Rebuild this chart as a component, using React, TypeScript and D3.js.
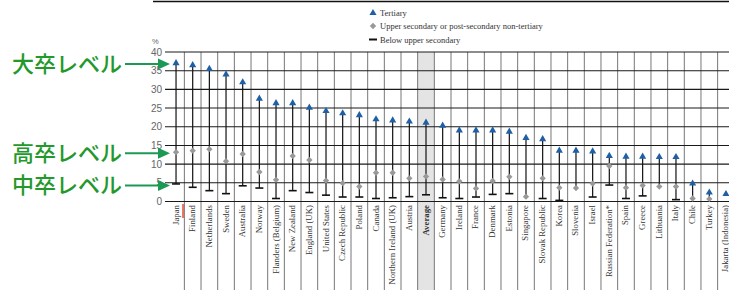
import * as React from "react";
import * as d3 from "d3";

const countries = [
  "Japan", "Finland", "Netherlands", "Sweden", "Australia", "Norway", "Flanders (Belgium)",
  "New Zealand", "England (UK)", "United States", "Czech Republic", "Poland", "Canada",
  "Northern Ireland (UK)", "Austria", "Average", "Germany", "Ireland", "France", "Denmark",
  "Estonia", "Singapore", "Slovak Republic", "Korea", "Slovenia", "Israel",
  "Russian Federation*", "Spain", "Greece", "Lithuania", "Italy", "Chile", "Turkey",
  "Jakarta (Indonesia)",
];
const tertiary = [
  37.0, 36.5, 35.5, 34.0, 31.9, 27.5, 26.3, 26.3, 25.1, 24.2, 23.6, 23.1, 22.0, 21.7, 21.4,
  21.1, 20.3, 19.0, 19.0, 19.0, 18.7, 17.0, 16.7, 13.6, 13.6, 13.4, 12.2, 12.0, 12.0, 11.9,
  11.9, 4.8, 2.4, 2.0,
];
const upperSecondary: (number | null)[] = [
  13.2, 13.6, 14.0, 10.8, 12.7, 7.9, 5.8, 12.2, 11.1, 5.6, 4.9, 4.0, 7.7, 7.7, 6.2,
  6.7, 5.9, 5.4, 3.5, 5.5, 6.6, 1.3, 6.2, 3.7, 3.6, 4.8, 9.5, 3.7, 4.3, 4.0,
  4.0, 0.8, 0.7, null,
];
const belowUpper: (number | null)[] = [
  4.7, 3.8, 2.9, 2.1, 4.2, 3.6, 0.8, 2.9, 2.4, 1.7, 1.2, 1.2, 0.8, 1.0, 1.3,
  1.8, 1.0, 0.8, 1.2, 1.9, 2.1, null, 0.8, 0.3, null, 1.2, 4.4, 0.8, 1.5, null,
  0.5, null, null, null,
];
const yTicks = [0, 5, 10, 15, 20, 25, 30, 35, 40];
const legendItems = ["Tertiary", "Upper secondary or post-secondary non-tertiary", "Below upper secondary"];
const notes = [
  { text: "大卒レベル", value: 36.8 },
  { text: "高卒レベル", value: 12.9 },
  { text: "中卒レベル", value: 4.3 },
];

const W = 729;
const H = 299;
const blue = "#1f5fa6";
const gray = "#999999";
const green = "#23992c";

export default function App() {
  const x = d3.scaleBand<string>().domain(countries).range([167.7, 734.3]).padding(0);
  const y = d3.scaleLinear().domain([0, 40]).range([201.5, 52]);
  const bw = x.bandwidth();
  const tri = d3.symbol(d3.symbolTriangle, 22)() as string;
  const sq = d3.symbol(d3.symbolSquare, 20)() as string;
  const serif = "'Liberation Serif', serif";
  const sans = "'Liberation Sans', Arial, sans-serif";

  return (
    <div style={{ position: "fixed", left: 0, top: 0 }}>
      <svg width={W} height={H} style={{ display: "block", background: "#fff" }}>
        <line x1={153} x2={W} y1={1.5} y2={1.5} stroke="#111" strokeWidth={1.5} />

        {/* legend */}
        <g fontFamily={serif} fontSize={8.5} fill="#333">
          <path d={tri} transform="translate(373,13)" fill={blue} />
          <text x={380} y={16}>{legendItems[0]}</text>
          <path d={sq} transform="translate(373,26) rotate(45)" fill={gray} />
          <text x={380} y={29}>{legendItems[1]}</text>
          <line x1={369} x2={377} y1={39.5} y2={39.5} stroke="#111" strokeWidth={2} />
          <text x={380} y={43}>{legendItems[2]}</text>
        </g>

        {/* average shading */}
        <rect x={x("Average")} y={y(40)} width={bw} height={290 - y(40)} fill="#e4e4e4" />

        {/* vertical separators */}
        {countries.map((c) => (
          <line key={"v" + c} x1={(x(c) as number) + bw} x2={(x(c) as number) + bw}
            y1={y(40)} y2={290} stroke="#777" strokeWidth={1} />
        ))}

        {/* horizontal grid + y labels */}
        {yTicks.map((t) => (
          <g key={"h" + t}>
            <line x1={165} x2={W} y1={y(t)} y2={y(t)} stroke="#1a1a1a" strokeWidth={1.1} />
            <text x={162} y={y(t) + 3.5} textAnchor="end" fontFamily={sans} fontSize={10} fill="#666">{t}</text>
          </g>
        ))}
        <text x={152} y={44} fontFamily={sans} fontSize={7.5} fill="#666">%</text>

        {/* sticks and markers */}
        {countries.map((c, i) => {
          const cx = (x(c) as number) + bw / 2;
          const vals = [upperSecondary[i], belowUpper[i]].filter((v) => v !== null) as number[];
          const low = vals.length ? Math.min(...vals) : null;
          return (
            <g key={"m" + c}>
              {low !== null && (
                <line x1={cx} x2={cx} y1={y(tertiary[i])} y2={y(low)} stroke="#111" strokeWidth={1.2} />
              )}
              {belowUpper[i] !== null && (
                <line x1={cx - 4} x2={cx + 4} y1={y(belowUpper[i] as number)} y2={y(belowUpper[i] as number)}
                  stroke="#111" strokeWidth={1.6} />
              )}
              {upperSecondary[i] !== null && (
                <path d={sq} transform={`translate(${cx},${y(upperSecondary[i] as number)}) rotate(45)`} fill={gray} />
              )}
              <path d={tri} transform={`translate(${cx},${y(tertiary[i])})`} fill={blue} />
            </g>
          );
        })}

        {/* category labels */}
        {countries.map((c) => {
          const cx = (x(c) as number) + bw / 2;
          return (
            <text key={"l" + c} transform={`translate(${cx + 2.5},205) rotate(-90)`} textAnchor="end"
              fontFamily={serif} fontSize={8.8} fill="#333" fontWeight={c === "Average" ? "bold" : "normal"}>
              {c}
            </text>
          );
        })}
        <line x1={183} x2={183} y1={204} y2={218} stroke="#e0321e" strokeWidth={1.3} />

        {/* annotations */}
        {notes.map((n) => (
          <g key={n.text}>
            <text x={12} y={y(n.value) + 8} fontFamily="'Noto Sans CJK JP', sans-serif" fontSize={22}
              fontWeight={500} fill={green}>{n.text}</text>
            <line x1={125} x2={160} y1={y(n.value)} y2={y(n.value)} stroke="#1c9a55" strokeWidth={2} />
            <path d={`M158,${y(n.value) - 5.5}L170,${y(n.value)}L158,${y(n.value) + 5.5}Z`} fill="#1c9a55" />
          </g>
        ))}
      </svg>
    </div>
  );
}
